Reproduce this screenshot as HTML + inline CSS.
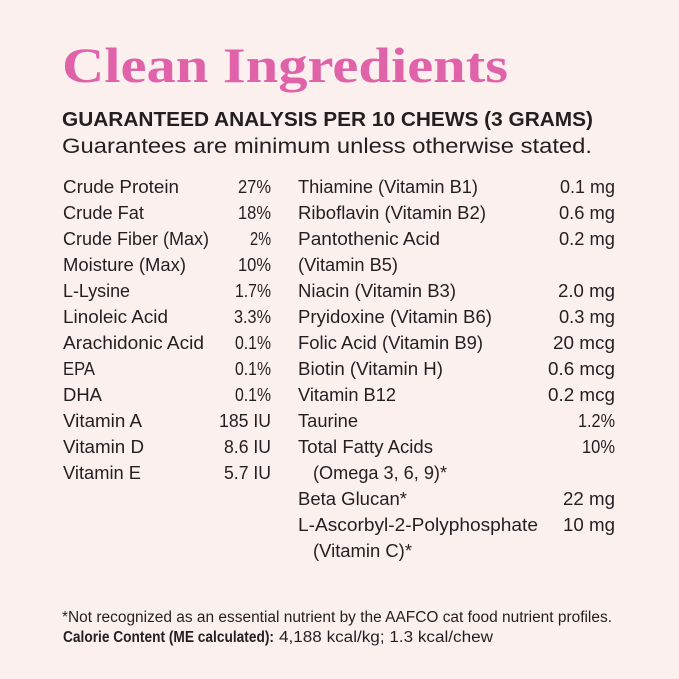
<!DOCTYPE html>
<html>
<head>
<meta charset="utf-8">
<style>
html,body{margin:0;padding:0;background:#fcf0ef;}
svg{display:block;}
text{font-family:"Liberation Sans",sans-serif;fill:#231f20;}
.t{font-size:18px;}
.f{font-size:15.5px;}
</style>
</head>
<body>
<svg width="679" height="679" viewBox="0 0 679 679" xmlns="http://www.w3.org/2000/svg">
<rect x="0" y="0" width="679" height="679" fill="#fcf0ef"/>
<text x="62" y="82" style="font-family:'Liberation Serif',serif;font-weight:bold;font-size:50px;fill:#e063aa;" textLength="446" lengthAdjust="spacingAndGlyphs">Clean Ingredients</text>
<text x="62" y="126" style="font-weight:bold;font-size:20.5px;" textLength="531" lengthAdjust="spacingAndGlyphs">GUARANTEED ANALYSIS PER 10 CHEWS (3 GRAMS)</text>
<text x="62" y="153" style="font-size:21px;" textLength="530" lengthAdjust="spacingAndGlyphs">Guarantees are minimum unless otherwise stated.</text>

<g class="t">
<text class="t" x="63" y="193" textLength="116" lengthAdjust="spacingAndGlyphs">Crude Protein</text>
<text class="t" x="63" y="219" textLength="81" lengthAdjust="spacingAndGlyphs">Crude Fat</text>
<text class="t" x="63" y="245" textLength="146" lengthAdjust="spacingAndGlyphs">Crude Fiber (Max)</text>
<text class="t" x="63" y="271" textLength="123" lengthAdjust="spacingAndGlyphs">Moisture (Max)</text>
<text class="t" x="63" y="297" textLength="67" lengthAdjust="spacingAndGlyphs">L-Lysine</text>
<text class="t" x="63" y="323" textLength="105" lengthAdjust="spacingAndGlyphs">Linoleic Acid</text>
<text class="t" x="63" y="349" textLength="141" lengthAdjust="spacingAndGlyphs">Arachidonic Acid</text>
<text class="t" x="63" y="375" textLength="32" lengthAdjust="spacingAndGlyphs">EPA</text>
<text class="t" x="63" y="401" textLength="39" lengthAdjust="spacingAndGlyphs">DHA</text>
<text class="t" x="63" y="427" textLength="79" lengthAdjust="spacingAndGlyphs">Vitamin A</text>
<text class="t" x="63" y="453" textLength="81" lengthAdjust="spacingAndGlyphs">Vitamin D</text>
<text class="t" x="63" y="479" textLength="78" lengthAdjust="spacingAndGlyphs">Vitamin E</text>

<text class="t" x="238" y="193" textLength="33" lengthAdjust="spacingAndGlyphs">27%</text>
<text class="t" x="238" y="219" textLength="33" lengthAdjust="spacingAndGlyphs">18%</text>
<text class="t" x="250" y="245" textLength="21" lengthAdjust="spacingAndGlyphs">2%</text>
<text class="t" x="238" y="271" textLength="33" lengthAdjust="spacingAndGlyphs">10%</text>
<text class="t" x="235" y="297" textLength="36" lengthAdjust="spacingAndGlyphs">1.7%</text>
<text class="t" x="234" y="323" textLength="37" lengthAdjust="spacingAndGlyphs">3.3%</text>
<text class="t" x="235" y="349" textLength="36" lengthAdjust="spacingAndGlyphs">0.1%</text>
<text class="t" x="235" y="375" textLength="36" lengthAdjust="spacingAndGlyphs">0.1%</text>
<text class="t" x="235" y="401" textLength="36" lengthAdjust="spacingAndGlyphs">0.1%</text>
<text class="t" x="219" y="427" textLength="52" lengthAdjust="spacingAndGlyphs">185 IU</text>
<text class="t" x="224" y="453" textLength="47" lengthAdjust="spacingAndGlyphs">8.6 IU</text>
<text class="t" x="224" y="479" textLength="47" lengthAdjust="spacingAndGlyphs">5.7 IU</text>

<text class="t" x="298" y="193" textLength="180" lengthAdjust="spacingAndGlyphs">Thiamine (Vitamin B1)</text>
<text class="t" x="298" y="219" textLength="188" lengthAdjust="spacingAndGlyphs">Riboflavin (Vitamin B2)</text>
<text class="t" x="298" y="245" textLength="142" lengthAdjust="spacingAndGlyphs">Pantothenic Acid</text>
<text class="t" x="298" y="271" textLength="100" lengthAdjust="spacingAndGlyphs">(Vitamin B5)</text>
<text class="t" x="298" y="297" textLength="158" lengthAdjust="spacingAndGlyphs">Niacin (Vitamin B3)</text>
<text class="t" x="298" y="323" textLength="194" lengthAdjust="spacingAndGlyphs">Pryidoxine (Vitamin B6)</text>
<text class="t" x="298" y="349" textLength="185" lengthAdjust="spacingAndGlyphs">Folic Acid (Vitamin B9)</text>
<text class="t" x="298" y="375" textLength="145" lengthAdjust="spacingAndGlyphs">Biotin (Vitamin H)</text>
<text class="t" x="298" y="401" textLength="98" lengthAdjust="spacingAndGlyphs">Vitamin B12</text>
<text class="t" x="298" y="427" textLength="60" lengthAdjust="spacingAndGlyphs">Taurine</text>
<text class="t" x="298" y="453" textLength="135" lengthAdjust="spacingAndGlyphs">Total Fatty Acids</text>
<text class="t" x="313" y="479" textLength="134" lengthAdjust="spacingAndGlyphs">(Omega 3, 6, 9)*</text>
<text class="t" x="298" y="505" textLength="109" lengthAdjust="spacingAndGlyphs">Beta Glucan*</text>
<text class="t" x="298" y="531" textLength="240" lengthAdjust="spacingAndGlyphs">L-Ascorbyl-2-Polyphosphate</text>
<text class="t" x="313" y="557" textLength="99" lengthAdjust="spacingAndGlyphs">(Vitamin C)*</text>

<text class="t" x="560" y="193" textLength="55" lengthAdjust="spacingAndGlyphs">0.1 mg</text>
<text class="t" x="559" y="219" textLength="56" lengthAdjust="spacingAndGlyphs">0.6 mg</text>
<text class="t" x="559" y="245" textLength="56" lengthAdjust="spacingAndGlyphs">0.2 mg</text>
<text class="t" x="558" y="297" textLength="57" lengthAdjust="spacingAndGlyphs">2.0 mg</text>
<text class="t" x="559" y="323" textLength="56" lengthAdjust="spacingAndGlyphs">0.3 mg</text>
<text class="t" x="553" y="349" textLength="62" lengthAdjust="spacingAndGlyphs">20 mcg</text>
<text class="t" x="548" y="375" textLength="67" lengthAdjust="spacingAndGlyphs">0.6 mcg</text>
<text class="t" x="548" y="401" textLength="67" lengthAdjust="spacingAndGlyphs">0.2 mcg</text>
<text class="t" x="578" y="427" textLength="37" lengthAdjust="spacingAndGlyphs">1.2%</text>
<text class="t" x="582" y="453" textLength="33" lengthAdjust="spacingAndGlyphs">10%</text>
<text class="t" x="563" y="505" textLength="52" lengthAdjust="spacingAndGlyphs">22 mg</text>
<text class="t" x="563" y="531" textLength="52" lengthAdjust="spacingAndGlyphs">10 mg</text>
</g>

<text class="f" x="62" y="622" textLength="550" lengthAdjust="spacingAndGlyphs">*Not recognized as an essential nutrient by the AAFCO cat food nutrient profiles.</text>
<text class="f" x="63" y="642" style="font-weight:bold;" textLength="211" lengthAdjust="spacingAndGlyphs">Calorie Content (ME calculated):</text>
<text class="f" x="279" y="642" textLength="214" lengthAdjust="spacingAndGlyphs">4,188 kcal/kg; 1.3 kcal/chew</text>
</svg>
</body>
</html>
